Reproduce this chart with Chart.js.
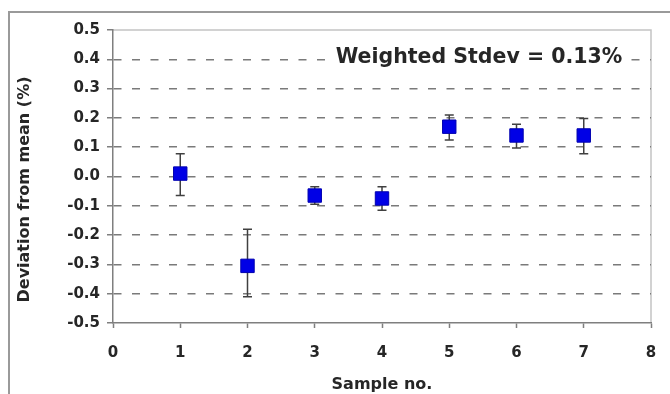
<!DOCTYPE html>
<html>
<head>
<meta charset="utf-8">
<script src="https://cdn.jsdelivr.net/npm/chart.js@4/dist/chart.umd.min.js"></script>
<style>
  html, body { margin: 0; padding: 0; background: #fff; }
  #wrap { position: relative; width: 670px; height: 394px; overflow: hidden; }
  #frame { position: absolute; left: 8px; top: 11px; width: 660px; height: 400px;
           border-left: 2px solid #9a9a9a; border-top: 2px solid #9a9a9a; border-right: 1px solid #e0e0e0; }
  canvas { position: absolute; left: 0; top: 0; }
</style>
</head>
<body>
<div id="wrap">
  <div id="frame"></div>
  <canvas id="c" width="670" height="394"></canvas>
</div>
<script>
const samples   = [1, 2, 3, 4, 5, 6, 7];
const deviation = [0.01, -0.305, -0.065, -0.075, 0.17, 0.14, 0.14];
const errLow    = [-0.065, -0.41, -0.095, -0.115, 0.125, 0.097, 0.078];
const errHigh   = [0.078, -0.18, -0.035, -0.035, 0.21, 0.178, 0.198];
const xTicks    = [0, 1, 2, 3, 4, 5, 6, 7, 8];
const yTicks    = [0.5, 0.4, 0.3, 0.2, 0.1, 0.0, -0.1, -0.2, -0.3, -0.4, -0.5];
const annotation = 'Weighted Stdev = 0.13%';
const yTitle = 'Deviation from mean (%)';
const xTitle = 'Sample no.';

const FONT = '"DejaVu Sans", Verdana, sans-serif';
const TXT = '#262626';

const errorBars = {
  id: 'errorBars',
  beforeDatasetsDraw(chart) {
    const ctx = chart.ctx, xs = chart.scales.x, ys = chart.scales.y;
    ctx.save();
    ctx.strokeStyle = '#404040';
    ctx.lineWidth = 1.5;
    samples.forEach((s, i) => {
      const px = xs.getPixelForValue(s);
      const yl = ys.getPixelForValue(errLow[i]);
      const yh = ys.getPixelForValue(errHigh[i]);
      ctx.beginPath();
      ctx.moveTo(px, yl); ctx.lineTo(px, yh);
      ctx.moveTo(px - 4.5, yl); ctx.lineTo(px + 4.5, yl);
      ctx.moveTo(px - 4.5, yh); ctx.lineTo(px + 4.5, yh);
      ctx.stroke();
    });
    ctx.restore();
  },
  beforeDraw(chart) {
    const ctx = chart.ctx, a = chart.chartArea;
    ctx.save();
    ctx.strokeStyle = '#c4c4c4';
    ctx.lineWidth = 1.5;
    ctx.beginPath();
    ctx.moveTo(a.left, a.top); ctx.lineTo(a.right, a.top); ctx.lineTo(a.right, a.bottom);
    ctx.stroke();
    ctx.restore();
  },
  afterDatasetsDraw(chart) {
    const ctx = chart.ctx, a = chart.chartArea, ys = chart.scales.y;
    ctx.save();
    ctx.font = 'bold 20.5px ' + FONT;
    const w = ctx.measureText(annotation).width;
    const cx = a.right - 172;
    const cy = ys.getPixelForValue(0.4) - 2;
    ctx.fillStyle = '#ffffff';
    ctx.fillRect(cx - w / 2 - 6, cy - 12, w + 12, 24);
    ctx.fillStyle = TXT;
    ctx.textAlign = 'center';
    ctx.textBaseline = 'middle';
    ctx.fillText(annotation, cx, cy);
    // y axis title
    ctx.font = 'bold 16px ' + FONT;
    ctx.translate(25, (a.top + a.bottom) / 2 + 13);
    ctx.rotate(-Math.PI / 2);
    ctx.fillText(yTitle, 0, 0);
    ctx.restore();
  }
};

new Chart(document.getElementById('c'), {
  type: 'scatter',
  data: {
    datasets: [{
      data: samples.map((s, i) => ({ x: s, y: deviation[i] })),
      pointStyle: 'rect',
      pointRadius: 9.5,
      pointHoverRadius: 9.5,
      backgroundColor: '#0000e6',
      borderColor: '#0000b0',
      borderWidth: 1
    }]
  },
  options: {
    responsive: false,
    animation: false,
    layout: { padding: { left: 0, top: 30, right: 19, bottom: 0 } },
    plugins: { legend: { display: false }, tooltip: { enabled: false } },
    scales: {
      x: {
        type: 'linear', min: 0, max: 8,
        afterBuildTicks(s) { s.ticks = xTicks.map(v => ({ value: v })); },
        afterFit(s) { s.height = 71; s.paddingRight = 0; s.paddingLeft = 0; },
        grid: { drawOnChartArea: false, drawTicks: true, tickLength: 5, tickColor: '#7f7f7f', tickWidth: 1.5 },
        border: { display: true, color: '#7f7f7f', width: 1.5 },
        ticks: { color: TXT, font: { family: FONT, size: 15, weight: 'bold' }, padding: 16, maxRotation: 0,
                 callback: v => String(v) },
        title: { display: true, text: xTitle, color: TXT, font: { family: FONT, size: 16, weight: 'bold' }, padding: { top: 0, bottom: 0 } }
      },
      y: {
        type: 'linear', min: -0.5, max: 0.5,
        afterBuildTicks(s) { s.ticks = yTicks.map(v => ({ value: v })); },
        afterFit(s) { s.width = 113; },
        grid: {
          color: c => (Math.abs(Math.abs(c.tick.value) - 0.5) < 1e-9) ? 'rgba(0,0,0,0)' : '#7a7a7a',
          lineWidth: 1.5, drawTicks: true, tickLength: 6, tickColor: '#7f7f7f', tickWidth: 1.5, tickBorderDash: []
        },
        border: { display: true, color: '#7f7f7f', width: 1.5, dash: [8, 10.5] },
        ticks: { color: TXT, font: { family: FONT, size: 15, weight: 'bold' }, padding: 7,
                 callback: v => v.toFixed(1) }
      }
    }
  },
  plugins: [errorBars]
});
</script>
</body>
</html>
